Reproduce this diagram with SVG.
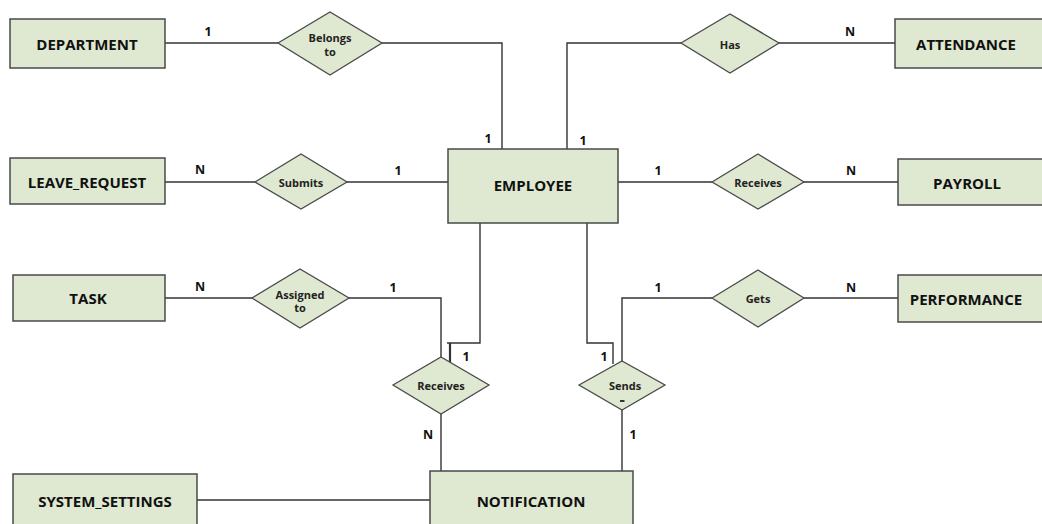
<svg xmlns="http://www.w3.org/2000/svg" width="1042" height="524" viewBox="0 0 1042 524">
<style>
.ent{fill:#dfe8d0;stroke:#4a4a4a;stroke-width:1.5}
.rel{fill:#dfe8d0;stroke:#4a4a4a;stroke-width:1.3}
.et{font-family:"Open Sans","Liberation Sans",sans-serif;font-weight:bold;font-size:15px;fill:#111111;text-anchor:middle;dominant-baseline:central}
.rt{font-family:"Open Sans","Liberation Sans",sans-serif;font-weight:bold;font-size:11px;fill:#222222;text-anchor:middle;dominant-baseline:central}
.card{font-family:"Open Sans","Liberation Sans",sans-serif;font-weight:bold;font-size:12.5px;fill:#111111;text-anchor:middle;dominant-baseline:central}
.ln{fill:none;stroke:#333333;stroke-width:1.4}
</style>
<rect width="1042" height="524" fill="#ffffff"/>
<g id="connectors">
<polyline class="ln" points="165,43 278,43"/>
<polyline class="ln" points="382,43 502,43 502,149"/>
<polyline class="ln" points="567,149 567,43 681,43"/>
<polyline class="ln" points="779,43 895,43"/>
<polyline class="ln" points="165,182 255,182"/>
<polyline class="ln" points="347,182 448,182"/>
<polyline class="ln" points="618,182 712,182"/>
<polyline class="ln" points="804,182 898,182"/>
<polyline class="ln" points="165,298 252,298"/>
<polyline class="ln" points="349,298 441,298 441,357"/>
<polyline class="ln" points="804,298 898,298"/>
<polyline class="ln" points="712,298 622,298 622,362"/>
<polyline class="ln" points="480,223 480,343 447,343"/>
<line class="ln" x1="450" y1="343" x2="450" y2="365" style="stroke-width:2.2"/>
<polyline class="ln" points="587,223 587,343 613,343 613,364"/>
<polyline class="ln" points="441,414 441,471"/>
<polyline class="ln" points="622,410 622,471"/>
<polyline class="ln" points="197,500 430,500"/>
</g>
<g id="DEPARTMENT"><rect class="ent" x="10" y="19" width="155" height="49"/><text class="et" x="87" y="44">DEPARTMENT</text></g>
<g id="ATTENDANCE"><rect class="ent" x="895" y="19" width="160" height="49"/><text class="et" x="966" y="44">ATTENDANCE</text></g>
<g id="EMPLOYEE"><rect class="ent" x="448" y="149" width="170" height="74"/><text class="et" x="533" y="185">EMPLOYEE</text></g>
<g id="LEAVE_REQUEST"><rect class="ent" x="10" y="158" width="155" height="46"/><text class="et" x="87" y="182">LEAVE_REQUEST</text></g>
<g id="PAYROLL"><rect class="ent" x="898" y="159" width="160" height="46"/><text class="et" x="967" y="183">PAYROLL</text></g>
<g id="TASK"><rect class="ent" x="13" y="275" width="152" height="46"/><text class="et" x="88" y="298">TASK</text></g>
<g id="PERFORMANCE"><rect class="ent" x="898" y="275" width="160" height="47"/><text class="et" x="966" y="299">PERFORMANCE</text></g>
<g id="SYSTEM_SETTINGS"><rect class="ent" x="13" y="474" width="184" height="60"/><text class="et" x="105" y="501">SYSTEM_SETTINGS</text></g>
<g id="NOTIFICATION"><rect class="ent" x="430" y="471" width="203" height="63"/><text class="et" x="531" y="501">NOTIFICATION</text></g>
<g id="rel_belongs"><polygon class="rel" points="278,43 330,12 382,43 330,75"/><text class="rt" x="330" y="37">Belongs</text><text class="rt" x="330" y="51">to</text></g>
<g id="rel_has"><polygon class="rel" points="681,43 730,14 779,43 730,73"/><text class="rt" x="730" y="44">Has</text></g>
<g id="rel_submits"><polygon class="rel" points="255,182 301,154 347,182 301,209"/><text class="rt" x="301" y="182">Submits</text></g>
<g id="rel_receives_pay"><polygon class="rel" points="712,182 758,154 804,182 758,209"/><text class="rt" x="758" y="182">Receives</text></g>
<g id="rel_assigned"><polygon class="rel" points="252,298 300,269 349,298 300,328"/><text class="rt" x="300" y="294">Assigned</text><text class="rt" x="300" y="307">to</text></g>
<g id="rel_gets"><polygon class="rel" points="712,298 758,270 804,298 758,327"/><text class="rt" x="758" y="298">Gets</text></g>
<g id="rel_receives_notif"><polygon class="rel" points="393,385 441,357 489,385 441,414"/><text class="rt" x="441" y="385">Receives</text></g>
<g id="rel_sends"><polygon class="rel" points="579,385 622,361 665,385 622,410"/><text class="rt" x="625" y="385">Sends</text><line x1="620" y1="401" x2="624.5" y2="401" stroke="#222222" stroke-width="1.8"/></g>
<g id="cardinalities">
<text class="card" x="208" y="31">1</text>
<text class="card" x="488" y="138">1</text>
<text class="card" x="583" y="140">1</text>
<text class="card" x="850" y="31">N</text>
<text class="card" x="200" y="169">N</text>
<text class="card" x="398" y="170">1</text>
<text class="card" x="658" y="170">1</text>
<text class="card" x="851" y="170">N</text>
<text class="card" x="200" y="286">N</text>
<text class="card" x="393" y="287">1</text>
<text class="card" x="658" y="287">1</text>
<text class="card" x="851" y="287">N</text>
<text class="card" x="466" y="356">1</text>
<text class="card" x="604" y="356">1</text>
<text class="card" x="428" y="434">N</text>
<text class="card" x="633" y="434">1</text>
</g>
</svg>
